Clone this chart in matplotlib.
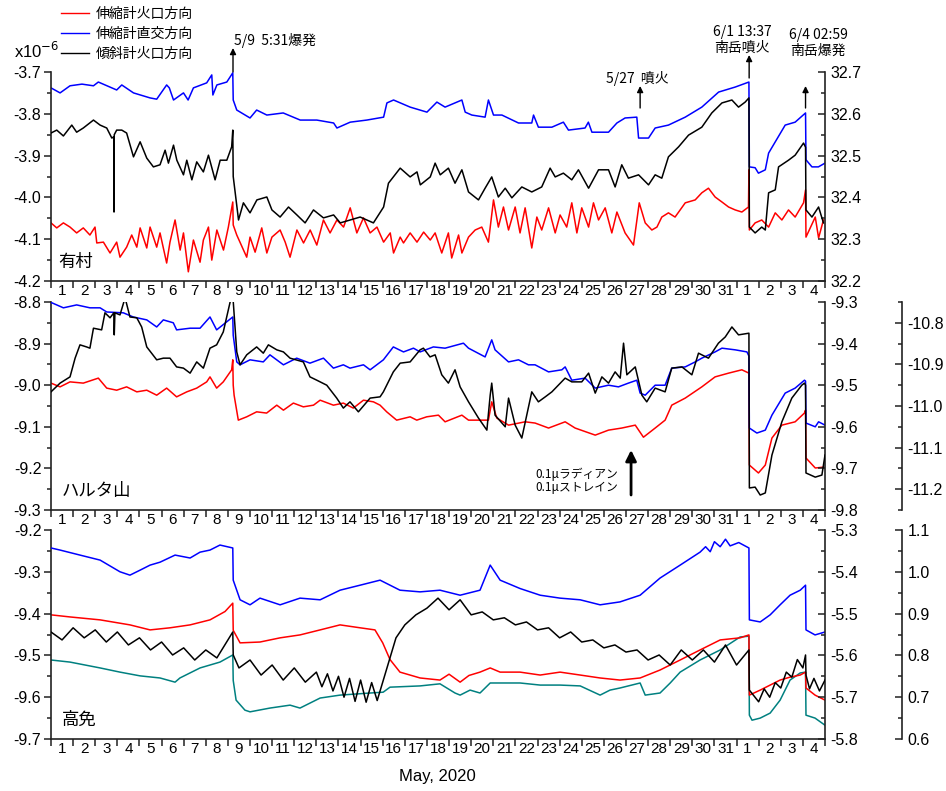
import matplotlib
matplotlib.use('Agg')
import matplotlib.pyplot as plt
from matplotlib.lines import Line2D
from matplotlib.transforms import blended_transform_factory
from matplotlib.ticker import MultipleLocator, FixedLocator, FixedFormatter, FormatStrFormatter, NullFormatter

plt.rcParams['font.family'] = ['Liberation Sans', 'Noto Sans CJK JP', 'DejaVu Sans']
plt.rcParams['axes.unicode_minus'] = False

# ---------------- data (time in days since May 1 00:00) ----------------
day_labels = [str(d) for d in range(1, 32)] + [str(d) for d in range(1, 5)]
legend_labels = ['伸縮計火口方向', '伸縮計直交方向', '傾斜計火口方向']
station_names = ['有村', 'ハルタ山', '高免']

event_times = [8.23, 26.64, 31.57, 34.12]
event_texts = ['5/9  5:31爆発', '5/27  噴火', '6/1 13:37\n南岳噴火', '6/4 02:59\n南岳爆発']
scale_arrow_time = 26.23
scale_texts = ['0.1\u03bcラディアン', '0.1\u03bcストレイン']

# Panel 1 (有村)
p1_red = [(0, -4.061), (0.26, -4.073), (0.56, -4.061), (0.86, -4.071), (1.16, -4.085), (1.46, -4.073),
          (1.76, -4.090), (1.99, -4.071), (2.07, -4.109), (2.37, -4.107), (2.67, -4.133), (2.97, -4.107),
          (3.12, -4.143), (3.42, -4.119), (3.65, -4.090), (3.88, -4.119), (4.03, -4.073), (4.33, -4.121),
          (4.48, -4.071), (4.78, -4.119), (4.93, -4.085), (5.23, -4.157), (5.38, -4.107), (5.61, -4.054),
          (5.84, -4.126), (5.99, -4.085), (6.21, -4.178), (6.44, -4.102), (6.74, -4.155), (6.89, -4.102),
          (7.12, -4.071), (7.27, -4.150), (7.5, -4.078), (7.8, -4.126), (8.02, -4.071), (8.22, -4.011),
          (8.24, -4.066), (8.4, -4.090), (8.85, -4.143), (9.0, -4.095), (9.23, -4.131), (9.53, -4.073),
          (9.76, -4.133), (9.99, -4.095), (10.36, -4.078), (10.59, -4.107), (10.81, -4.143), (11.12, -4.078),
          (11.42, -4.109), (11.72, -4.078), (12.02, -4.114), (12.32, -4.054), (12.62, -4.085), (12.93, -4.054),
          (13.23, -4.071), (13.53, -4.025), (13.83, -4.085), (14.13, -4.049), (14.43, -4.085), (14.74, -4.071),
          (15.04, -4.107), (15.34, -4.085), (15.49, -4.133), (15.79, -4.095), (15.94, -4.109), (16.24, -4.085),
          (16.55, -4.107), (16.85, -4.083), (17.15, -4.102), (17.37, -4.085), (17.67, -4.133), (17.97, -4.085),
          (18.12, -4.145), (18.43, -4.090), (18.58, -4.133), (18.88, -4.095), (19.18, -4.078), (19.48, -4.071),
          (19.78, -4.107), (20.01, -4.006), (20.23, -4.071), (20.46, -4.023), (20.69, -4.078), (20.99, -4.023),
          (21.21, -4.085), (21.44, -4.025), (21.74, -4.121), (21.97, -4.047), (22.19, -4.078), (22.5, -4.025),
          (22.8, -4.085), (23.02, -4.042), (23.32, -4.071), (23.55, -4.013), (23.78, -4.085), (24.0, -4.025),
          (24.31, -4.071), (24.53, -4.013), (24.76, -4.054), (25.06, -4.025), (25.36, -4.085), (25.59, -4.035),
          (25.96, -4.085), (26.34, -4.114), (26.6, -4.013), (26.87, -4.061), (27.17, -4.078), (27.4, -4.071),
          (27.62, -4.047), (27.92, -4.037), (28.22, -4.047), (28.68, -4.013), (29.13, -4.006), (29.43, -3.989),
          (29.73, -3.978), (30.03, -3.999), (30.34, -4.011), (30.64, -4.023), (30.94, -4.030), (31.24, -4.035),
          (31.54, -4.023), (31.56, -3.934), (31.58, -4.078), (31.84, -4.061), (32.14, -4.054), (32.45, -4.071),
          (32.75, -4.037), (33.05, -4.054), (33.35, -4.030), (33.65, -4.047), (34.03, -4.013), (34.12, -3.982),
          (34.14, -4.095), (34.56, -4.047), (34.71, -4.097), (34.93, -4.054)]

p1_blue = [(0, -3.738), (0.41, -3.750), (0.86, -3.733), (1.4, -3.729), (1.92, -3.733), (2.14, -3.724),
           (2.97, -3.743), (3.2, -3.731), (3.73, -3.750), (4.48, -3.762), (4.78, -3.765), (5.23, -3.731),
           (5.35, -3.738), (5.54, -3.767), (5.99, -3.750), (6.2, -3.767), (6.44, -3.738), (7.04, -3.726),
           (7.27, -3.707), (7.32, -3.755), (7.5, -3.731), (7.95, -3.724), (8.22, -3.702), (8.24, -3.767),
           (8.4, -3.791), (9.0, -3.810), (9.3, -3.791), (9.76, -3.803), (10.5, -3.798), (11.27, -3.815),
           (12.02, -3.815), (12.78, -3.822), (12.93, -3.834), (13.53, -3.820), (14.28, -3.815), (15.04, -3.808),
           (15.19, -3.774), (15.49, -3.767), (16.24, -3.784), (17.0, -3.796), (17.45, -3.772), (17.82, -3.784),
           (18.58, -3.767), (18.73, -3.796), (19.03, -3.803), (19.63, -3.808), (19.78, -3.767), (20.01, -3.803),
           (20.39, -3.803), (21.14, -3.822), (21.74, -3.822), (21.82, -3.803), (22.04, -3.832), (22.65, -3.832),
           (23.17, -3.820), (23.4, -3.839), (24.15, -3.834), (24.3, -3.820), (24.46, -3.844), (25.21, -3.844),
           (25.59, -3.822), (25.96, -3.810), (26.49, -3.808), (26.57, -3.858), (27.02, -3.858), (27.32, -3.834),
           (27.92, -3.827), (28.68, -3.808), (29.43, -3.784), (30.19, -3.748), (30.94, -3.736), (31.56, -3.724),
           (31.58, -3.927), (31.84, -3.929), (31.99, -3.942), (32.3, -3.934), (32.45, -3.894), (33.2, -3.827),
           (33.65, -3.820), (34.12, -3.798), (34.14, -3.910), (34.41, -3.927), (34.7, -3.927), (35.0, -3.918)]

p1_black = [(0, 32.554), (0.26, 32.561), (0.56, 32.547), (0.94, 32.573), (1.16, 32.556), (1.46, 32.566),
            (1.92, 32.585), (2.22, 32.573), (2.52, 32.566), (2.75, 32.542), (2.84, 32.545), (2.85, 32.365),
            (2.86, 32.550), (2.97, 32.561), (3.2, 32.561), (3.42, 32.554), (3.73, 32.497), (4.03, 32.533),
            (4.33, 32.494), (4.63, 32.473), (4.93, 32.478), (5.16, 32.513), (5.31, 32.482), (5.54, 32.525),
            (5.69, 32.489), (5.99, 32.454), (6.14, 32.489), (6.37, 32.442), (6.59, 32.485), (6.89, 32.461),
            (7.12, 32.501), (7.42, 32.442), (7.65, 32.489), (7.95, 32.489), (8.17, 32.521), (8.22, 32.561),
            (8.24, 32.450), (8.48, 32.346), (8.7, 32.387), (9.0, 32.363), (9.31, 32.394), (9.76, 32.401),
            (9.99, 32.370), (10.36, 32.353), (10.74, 32.377), (11.12, 32.358), (11.49, 32.339), (11.87, 32.370),
            (12.32, 32.351), (12.78, 32.358), (13.08, 32.339), (13.53, 32.346), (13.98, 32.353), (14.58, 32.339),
            (15.04, 32.377), (15.26, 32.434), (15.79, 32.470), (16.24, 32.449), (16.55, 32.461), (16.7, 32.430),
            (17.15, 32.449), (17.37, 32.482), (17.6, 32.454), (17.97, 32.470), (18.27, 32.434), (18.58, 32.466),
            (18.88, 32.413), (19.33, 32.394), (19.63, 32.422), (19.93, 32.449), (20.23, 32.401), (20.54, 32.422),
            (20.84, 32.399), (21.29, 32.425), (21.74, 32.413), (22.19, 32.425), (22.57, 32.470), (22.8, 32.449),
            (23.17, 32.458), (23.55, 32.442), (23.85, 32.466), (24.31, 32.422), (24.76, 32.466), (25.21, 32.466),
            (25.51, 32.425), (25.81, 32.478), (26.11, 32.446), (26.57, 32.454), (27.02, 32.430), (27.32, 32.454),
            (27.62, 32.446), (27.92, 32.497), (28.38, 32.521), (28.83, 32.549), (29.43, 32.568), (29.88, 32.602),
            (30.34, 32.626), (30.79, 32.633), (31.09, 32.616), (31.39, 32.628), (31.56, 32.638), (31.58, 32.329),
            (31.84, 32.315), (32.14, 32.329), (32.3, 32.322), (32.45, 32.411), (32.75, 32.418), (32.9, 32.473),
            (33.35, 32.489), (33.65, 32.501), (34.03, 32.530), (34.12, 32.520), (34.14, 32.370), (34.41, 32.353),
            (34.71, 32.377), (34.93, 32.339)]

# Panel 2 (ハルタ山)
p2_red = [(0, -8.995), (0.41, -9.004), (0.86, -8.992), (1.46, -8.995), (2.14, -8.983), (2.52, -9.007),
          (2.97, -9.012), (3.42, -9.004), (3.88, -9.016), (4.33, -9.012), (4.78, -9.024), (5.23, -9.007),
          (5.68, -9.028), (6.14, -9.016), (6.59, -9.007), (7.04, -8.992), (7.19, -8.980), (7.49, -9.007),
          (7.79, -8.992), (8.17, -8.963), (8.22, -8.939), (8.24, -9.000), (8.28, -9.024), (8.47, -9.084),
          (8.85, -9.076), (9.3, -9.064), (9.75, -9.067), (10.21, -9.048), (10.51, -9.060), (10.96, -9.043),
          (11.41, -9.052), (11.87, -9.048), (12.17, -9.036), (12.77, -9.048), (13.22, -9.043), (13.67, -9.055),
          (14.13, -9.036), (14.58, -9.040), (14.88, -9.048), (15.18, -9.064), (15.63, -9.084), (16.24, -9.076),
          (16.54, -9.084), (16.99, -9.076), (17.52, -9.072), (17.82, -9.088), (18.58, -9.072), (18.88, -9.084),
          (19.78, -9.084), (19.93, -9.040), (20.16, -9.079), (20.69, -9.096), (21.44, -9.088), (21.89, -9.091),
          (22.5, -9.103), (23.25, -9.088), (23.7, -9.103), (24.61, -9.120), (25.21, -9.108), (25.81, -9.103),
          (26.42, -9.096), (26.79, -9.125), (27.32, -9.103), (27.77, -9.084), (28.07, -9.048), (28.68, -9.031),
          (29.43, -9.004), (30.03, -8.980), (30.64, -8.971), (31.24, -8.963), (31.56, -8.971), (31.58, -9.192),
          (31.99, -9.211), (32.3, -9.192), (32.6, -9.127), (33.05, -9.096), (33.65, -9.088), (34.07, -9.067),
          (34.12, -9.060), (34.14, -9.175), (34.56, -9.199), (34.93, -9.197)]

p2_blue = [(0, -9.301), (0.56, -9.314), (1.16, -9.307), (1.76, -9.314), (2.22, -9.314), (2.52, -9.324),
           (3.27, -9.326), (3.72, -9.336), (4.33, -9.343), (4.78, -9.360), (5.08, -9.343), (5.53, -9.350),
           (5.68, -9.367), (6.29, -9.363), (6.74, -9.363), (7.19, -9.336), (7.49, -9.367), (8.22, -9.336),
           (8.24, -9.380), (8.4, -9.444), (8.55, -9.451), (9.0, -9.439), (9.6, -9.444), (9.9, -9.427),
           (10.51, -9.451), (11.11, -9.435), (11.71, -9.447), (12.32, -9.435), (12.77, -9.459), (13.22, -9.451),
           (13.52, -9.459), (14.13, -9.451), (14.43, -9.463), (15.03, -9.439), (15.48, -9.408), (15.94, -9.420),
           (16.39, -9.411), (16.69, -9.420), (17.29, -9.408), (17.82, -9.411), (18.65, -9.399), (18.88, -9.411),
           (19.63, -9.432), (19.93, -9.391), (20.08, -9.415), (20.69, -9.444), (21.14, -9.439), (21.59, -9.451),
           (21.89, -9.451), (22.5, -9.468), (23.1, -9.463), (23.25, -9.456), (23.55, -9.488), (24.15, -9.483),
           (24.61, -9.507), (25.21, -9.500), (25.66, -9.504), (26.11, -9.495), (26.49, -9.488), (26.64, -9.519),
           (26.87, -9.524), (27.32, -9.500), (27.77, -9.500), (28.07, -9.459), (28.68, -9.456), (29.13, -9.444),
           (29.43, -9.435), (30.03, -9.420), (30.34, -9.411), (30.94, -9.415), (31.47, -9.420), (31.56, -9.430),
           (31.58, -9.603), (31.92, -9.615), (32.3, -9.608), (32.6, -9.572), (33.2, -9.519), (33.65, -9.507),
           (34.07, -9.488), (34.12, -9.490), (34.14, -9.591), (34.56, -9.600), (34.71, -9.588), (35.0, -9.596)]

p2_black = [(0, -10.966), (0.41, -10.945), (0.86, -10.930), (1.09, -10.885), (1.31, -10.853), (1.61, -10.858),
            (1.76, -10.861), (1.92, -10.813), (2.29, -10.817), (2.44, -10.776), (2.67, -10.788), (2.84, -10.776),
            (2.86, -10.829), (2.89, -10.776), (3.12, -10.781), (3.35, -10.740), (3.57, -10.786), (3.88, -10.788),
            (4.1, -10.810), (4.33, -10.858), (4.78, -10.889), (5.08, -10.885), (5.38, -10.885), (5.68, -10.906),
            (5.99, -10.909), (6.29, -10.921), (6.59, -10.894), (6.89, -10.909), (7.19, -10.861), (7.49, -10.853),
            (7.79, -10.822), (8.1, -10.750), (8.22, -10.733), (8.4, -10.870), (8.55, -10.901), (8.85, -10.877),
            (9.3, -10.858), (9.6, -10.873), (9.83, -10.853), (10.21, -10.865), (10.51, -10.870), (10.81, -10.885),
            (11.41, -10.894), (11.71, -10.930), (12.02, -10.938), (12.47, -10.950), (12.92, -10.981), (13.22, -11.005),
            (13.52, -10.990), (13.9, -11.014), (14.43, -10.981), (14.88, -10.978), (15.03, -10.966), (15.48, -10.918),
            (15.79, -10.897), (16.24, -10.894), (16.69, -10.865), (16.84, -10.861), (17.14, -10.882), (17.37, -10.877),
            (17.67, -10.925), (17.97, -10.945), (18.27, -10.913), (18.5, -10.954), (18.88, -10.990), (19.33, -11.029),
            (19.71, -11.058), (19.86, -10.974), (19.93, -10.945), (20.08, -11.022), (20.54, -11.050), (20.69, -10.981),
            (20.99, -11.046), (21.29, -11.077), (21.74, -10.966), (22.04, -10.990), (22.35, -10.978), (22.65, -10.966),
            (23.25, -10.933), (23.55, -10.942), (24.0, -10.942), (24.31, -10.921), (24.61, -10.969), (24.91, -10.930),
            (25.21, -10.945), (25.51, -10.918), (25.74, -10.933), (25.89, -10.849), (26.04, -10.925), (26.42, -10.906),
            (26.72, -10.974), (26.94, -10.990), (27.32, -10.957), (27.77, -10.966), (28.07, -10.909), (28.53, -10.906),
            (28.98, -10.925), (29.28, -10.873), (29.73, -10.885), (30.18, -10.849), (30.49, -10.834), (30.79, -10.810),
            (31.09, -10.829), (31.56, -10.825), (31.58, -11.197), (31.84, -11.195), (32.07, -11.214), (32.3, -11.209),
            (32.6, -11.118), (33.05, -11.038), (33.5, -10.981), (33.95, -10.950), (34.07, -10.945), (34.12, -10.950),
            (34.14, -11.161), (34.56, -11.171), (34.86, -11.166), (35.0, -11.118)]

# Panel 3 (高免)
p3_red = [(0, -9.403), (0.86, -9.408), (2.22, -9.415), (3.57, -9.427), (4.48, -9.439), (5.38, -9.434),
          (6.29, -9.427), (7.19, -9.415), (7.87, -9.395), (8.22, -9.375), (8.24, -9.440), (8.55, -9.470),
          (9.45, -9.468), (10.36, -9.458), (11.26, -9.451), (12.17, -9.439), (13.07, -9.427), (13.98, -9.434),
          (14.65, -9.439), (15.0, -9.470), (15.33, -9.510), (15.78, -9.540), (16.69, -9.554), (17.59, -9.559),
          (18.0, -9.545), (18.5, -9.564), (18.9, -9.548), (19.4, -9.540), (19.86, -9.530), (20.31, -9.540),
          (21.21, -9.540), (22.12, -9.547), (23.02, -9.540), (23.93, -9.547), (24.83, -9.554), (25.73, -9.559),
          (26.64, -9.554), (27.54, -9.535), (28.45, -9.511), (29.35, -9.487), (30.26, -9.463), (31.16, -9.458),
          (31.56, -9.451), (31.58, -9.595), (32.07, -9.583), (32.52, -9.571), (32.97, -9.559), (33.42, -9.552),
          (33.88, -9.547), (34.12, -9.540), (34.14, -9.578), (34.55, -9.595), (35.0, -9.607)]

p3_blue = [(0, -5.343), (0.41, -5.348), (1.31, -5.360), (2.22, -5.372), (3.12, -5.400), (3.57, -5.408),
           (4.03, -5.396), (4.48, -5.384), (4.93, -5.377), (5.61, -5.360), (6.29, -5.367), (6.74, -5.353),
           (7.19, -5.348), (7.64, -5.336), (8.22, -5.343), (8.24, -5.420), (8.55, -5.467), (9.0, -5.479),
           (9.45, -5.463), (10.36, -5.479), (11.26, -5.463), (12.17, -5.467), (13.07, -5.444), (13.98, -5.432),
           (14.88, -5.420), (15.78, -5.444), (16.69, -5.448), (17.59, -5.444), (18.5, -5.456), (19.4, -5.444),
           (19.86, -5.384), (20.31, -5.420), (21.21, -5.440), (22.12, -5.456), (23.02, -5.463), (23.93, -5.467),
           (24.83, -5.479), (25.73, -5.472), (26.64, -5.456), (27.54, -5.415), (28.45, -5.384), (29.35, -5.353),
           (29.6, -5.340), (29.81, -5.352), (30.0, -5.328), (30.26, -5.340), (30.5, -5.322), (30.71, -5.338),
           (31.1, -5.330), (31.56, -5.343), (31.58, -5.515), (32.07, -5.520), (32.52, -5.503), (32.97, -5.479),
           (33.42, -5.456), (33.88, -5.444), (34.12, -5.432), (34.14, -5.539), (34.55, -5.551), (35.0, -5.544)]

p3_black = [(0, 0.856), (0.5, 0.837), (1.0, 0.866), (1.5, 0.842), (2.0, 0.861), (2.5, 0.832), (3.0, 0.856),
            (3.5, 0.825), (4.0, 0.842), (4.5, 0.813), (5.0, 0.832), (5.5, 0.801), (6.0, 0.818), (6.5, 0.789),
            (7.0, 0.813), (7.5, 0.794), (8.0, 0.837), (8.22, 0.856), (8.24, 0.801), (8.5, 0.770), (9.0, 0.789),
            (9.5, 0.753), (10.0, 0.777), (10.5, 0.741), (11.0, 0.770), (11.5, 0.736), (12.0, 0.760), (12.25, 0.725),
            (12.5, 0.756), (12.75, 0.715), (13.0, 0.750), (13.25, 0.700), (13.5, 0.745), (13.75, 0.690),
            (14.0, 0.741), (14.25, 0.688), (14.5, 0.735), (14.75, 0.692), (15.0, 0.736), (15.3, 0.789),
            (15.6, 0.842), (16.0, 0.873), (16.5, 0.897), (17.0, 0.913), (17.5, 0.937), (18.0, 0.909), (18.5, 0.933),
            (19.0, 0.897), (19.5, 0.904), (20.0, 0.885), (20.5, 0.890), (21.0, 0.873), (21.5, 0.880), (22.0, 0.861),
            (22.5, 0.866), (23.0, 0.842), (23.5, 0.856), (24.0, 0.832), (24.5, 0.837), (25.0, 0.818), (25.5, 0.825),
            (26.0, 0.808), (26.5, 0.813), (27.0, 0.789), (27.5, 0.801), (28.0, 0.777), (28.5, 0.813), (29.0, 0.789),
            (29.5, 0.813), (30.0, 0.784), (30.5, 0.825), (31.0, 0.777), (31.56, 0.813), (31.58, 0.717), (32.0, 0.689),
            (32.25, 0.720), (32.5, 0.700), (32.75, 0.735), (33.0, 0.722), (33.25, 0.760), (33.5, 0.748),
            (33.75, 0.790), (34.0, 0.770), (34.12, 0.801), (34.14, 0.753), (34.3, 0.720), (34.5, 0.745),
            (34.75, 0.715), (35.0, 0.741)]

p3_teal = [(0, -9.511), (0.86, -9.516), (2.22, -9.530), (3.12, -9.540), (4.03, -9.549), (4.93, -9.554),
           (5.61, -9.564), (5.83, -9.554), (6.74, -9.530), (7.64, -9.516), (8.22, -9.499), (8.24, -9.560),
           (8.37, -9.607), (8.77, -9.631), (9.0, -9.635), (9.9, -9.626), (10.81, -9.619), (11.26, -9.626),
           (12.17, -9.602), (13.07, -9.595), (14.43, -9.590), (15.02, -9.588), (15.33, -9.576), (16.69, -9.573),
           (17.59, -9.568), (18.27, -9.590), (18.5, -9.595), (18.95, -9.583), (19.4, -9.590), (19.86, -9.566),
           (20.31, -9.566), (21.21, -9.566), (22.12, -9.571), (23.02, -9.571), (23.93, -9.573), (24.83, -9.595),
           (25.28, -9.583), (25.73, -9.578), (26.64, -9.566), (26.87, -9.595), (27.54, -9.590), (28.0, -9.566),
           (28.45, -9.540), (29.35, -9.511), (30.26, -9.487), (31.16, -9.456), (31.56, -9.454), (31.58, -9.643),
           (31.7, -9.655), (32.07, -9.650), (32.52, -9.638), (32.97, -9.607), (33.42, -9.559), (33.88, -9.542),
           (34.12, -9.540), (34.14, -9.643), (34.55, -9.650), (35.0, -9.667)]

RED, BLUE, BLACK, TEAL = '#ff0000', '#0000ff', '#000000', '#008080'
SPINE = '#222222'

W, H = 946, 791
fig = plt.figure(figsize=(W / 100, H / 100), dpi=100)

left_px, right_px = 51, 825
third_px = 902
panels_px = [(72, 281), (302, 510), (530, 739)]


def fig_rect(top, bottom):
    return [left_px / W, 1 - bottom / H, (right_px - left_px) / W, (bottom - top) / H]


def style_main(ax, ylim):
    ax.set_xlim(0, 35)
    ax.set_ylim(*ylim)
    ax.spines['top'].set_visible(False)
    ax.spines['right'].set_visible(False)
    for s in ('left', 'bottom'):
        ax.spines[s].set_color(SPINE)
        ax.spines[s].set_linewidth(1.2)
    ax.xaxis.set_major_locator(MultipleLocator(1))
    ax.xaxis.set_major_formatter(NullFormatter())
    ax.xaxis.set_minor_locator(FixedLocator([i + 0.5 for i in range(35)]))
    ax.xaxis.set_minor_formatter(FixedFormatter(day_labels))
    ax.tick_params(axis='x', which='major', direction='out', length=5, width=1.1, color=SPINE)
    ax.tick_params(axis='x', which='minor', length=0, pad=2, labelsize=11)
    ax.yaxis.set_major_locator(MultipleLocator(0.1))
    ax.yaxis.set_minor_locator(MultipleLocator(0.05))
    ax.yaxis.set_major_formatter(FormatStrFormatter('%.1f'))
    ax.tick_params(axis='y', which='major', direction='out', length=5, width=1.1, labelsize=11.5, pad=2, color=SPINE)
    ax.tick_params(axis='y', which='minor', direction='out', length=3, width=1.1, color=SPINE)


def style_twin(ax, ylim, offset_px=0):
    ax.set_xlim(0, 35)
    ax.set_ylim(*ylim)
    for s in ('top', 'left', 'bottom'):
        ax.spines[s].set_visible(False)
    ax.spines['right'].set_color(SPINE)
    ax.spines['right'].set_linewidth(1.2)
    if offset_px:
        ax.spines['right'].set_position(('axes', 1 + offset_px / (right_px - left_px)))
    ax.yaxis.set_major_locator(MultipleLocator(0.1))
    ax.yaxis.set_minor_locator(MultipleLocator(0.05))
    ax.yaxis.set_major_formatter(FormatStrFormatter('%.1f'))
    ax.tick_params(axis='y', which='major', direction='in', length=5, width=1.1, labelsize=11.5, pad=4, color=SPINE)
    ax.tick_params(axis='y', which='minor', direction='in', length=3, width=1.1, color=SPINE)


def draw(ax, series, color, lw=1.1, z=2):
    t = [p[0] for p in series]
    v = [p[1] for p in series]
    ax.plot(t, v, color=color, lw=lw, zorder=z)


# Panel 1
ax1 = fig.add_axes(fig_rect(*panels_px[0]))
style_main(ax1, (-4.2, -3.7))
ax1r = ax1.twinx()
style_twin(ax1r, (32.2, 32.7))
draw(ax1, p1_red, RED)
draw(ax1, p1_blue, BLUE)
draw(ax1r, p1_black, BLACK)

# Panel 2
ax2 = fig.add_axes(fig_rect(*panels_px[1]))
style_main(ax2, (-9.3, -8.8))
ax2r = ax2.twinx()
style_twin(ax2r, (-9.8, -9.3))
ax2t = ax2.twinx()
style_twin(ax2t, (-11.25, -10.75), offset_px=third_px - right_px)
draw(ax2, p2_red, RED)
draw(ax2r, p2_blue, BLUE)
draw(ax2t, p2_black, BLACK)

# Panel 3
ax3 = fig.add_axes(fig_rect(*panels_px[2]))
style_main(ax3, (-9.7, -9.2))
ax3r = ax3.twinx()
style_twin(ax3r, (-5.8, -5.3))
ax3t = ax3.twinx()
style_twin(ax3t, (0.6, 1.1), offset_px=third_px - right_px)
draw(ax3, p3_teal, TEAL)
draw(ax3, p3_red, RED)
draw(ax3t, p3_black, BLACK)
draw(ax3r, p3_blue, BLUE)

cjk = ['Noto Sans CJK JP', 'DejaVu Sans']

# station labels
for ax, name in zip([ax1, ax2, ax3], station_names):
    ax.text(0.010 if name == '有村' else 0.014, 0.09, name, transform=ax.transAxes, fontsize=12.5,
            family=cjk, ha='left', va='center')

# legend
handles = [Line2D([], [], color=c, lw=1.0) for c in (RED, BLUE, BLACK)]
fig.legend(handles, legend_labels, loc='upper left', bbox_to_anchor=(61 / W, 1 - 7 / H), frameon=False,
           prop={'family': cjk, 'size': 10}, handlelength=2.0, handletextpad=0.5, labelspacing=0.42,
           borderaxespad=0, borderpad=0)

fig.text(14 / W, 1 - 51 / H, 'x10$^{-6}$', fontsize=12, ha='left', va='center')
fig.text(437 / W, 1 - 777 / H, 'May, 2020', fontsize=12, ha='center', va='center')

# event arrows
tr1 = blended_transform_factory(ax1.transData, fig.transFigure)
arrow_spans = [(72, 48), (108, 86), (78, 55), (108, 86)]
text_pos = [(234, 40, 'left'), (637, 78, 'center'), (742, 40, 'center'), (818, 43, 'center')]
for i, (t_ev, txt) in enumerate(zip(event_times, event_texts)):
    yb, yt = arrow_spans[i]
    ax1.annotate('', xy=(t_ev, 1 - yt / H), xytext=(t_ev, 1 - yb / H), xycoords=tr1, textcoords=tr1,
                 arrowprops=dict(arrowstyle='-|>', color='black', lw=1.0, mutation_scale=9,
                                 shrinkA=0, shrinkB=0), annotation_clip=False)
    xp, yp, ha = text_pos[i]
    fig.text(xp / W, 1 - yp / H, txt, fontsize=10, family=cjk, ha=ha, va='center', linespacing=1.15)

# scale arrow in panel 2
tr2 = blended_transform_factory(ax2.transData, fig.transFigure)
ax2.annotate('', xy=(scale_arrow_time, 1 - 450 / H), xytext=(scale_arrow_time, 1 - 495 / H),
             xycoords=tr2, textcoords=tr2,
             arrowprops=dict(arrowstyle='-|>', color='black', lw=2.0, mutation_scale=16,
                             shrinkA=0, shrinkB=0), annotation_clip=False)
fig.text(618 / W, 1 - 474 / H, scale_texts[0], fontsize=8.5, family=cjk, ha='right', va='center')
fig.text(618 / W, 1 - 488 / H, scale_texts[1], fontsize=8.5, family=cjk, ha='right', va='center')

fig.savefig('out.png', dpi=100)
